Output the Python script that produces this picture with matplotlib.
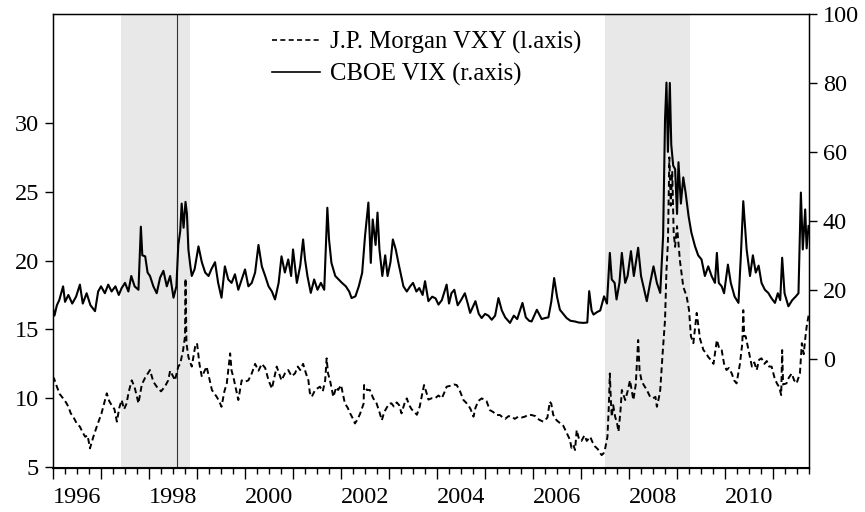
import matplotlib

matplotlib.use('Agg')
import matplotlib.pyplot as plt
from matplotlib.lines import Line2D
import numpy as np

plt.rcParams['font.family'] = ['Liberation Serif', 'DejaVu Serif']

# J.P. Morgan VXY (left axis): decimal year, level
vxy_t = [1996.00, 1996.02, 1996.08, 1996.14, 1996.21, 1996.27, 1996.32, 1996.37, 1996.42, 1996.49,
         1996.56, 1996.62, 1996.67, 1996.72, 1996.77, 1996.84, 1996.91, 1997.01, 1997.07, 1997.12,
         1997.17, 1997.22, 1997.28, 1997.33, 1997.38, 1997.43, 1997.48, 1997.53, 1997.58, 1997.64,
         1997.70, 1997.78, 1997.85, 1997.92, 1998.02, 1998.09, 1998.16, 1998.25, 1998.33, 1998.40,
         1998.44, 1998.50, 1998.54, 1998.61, 1998.65, 1998.71, 1998.75, 1998.76, 1998.78, 1998.82,
         1998.89, 1998.96, 1999.00, 1999.05, 1999.10, 1999.20, 1999.31, 1999.41, 1999.46, 1999.51,
         1999.57, 1999.62, 1999.69, 1999.72, 1999.76, 1999.86, 1999.93, 2000.00, 2000.07, 2000.14,
         2000.21, 2000.28, 2000.35, 2000.42, 2000.49, 2000.56, 2000.66, 2000.76, 2000.83, 2000.90,
         2000.97, 2001.04, 2001.10, 2001.15, 2001.21, 2001.27, 2001.32, 2001.35, 2001.39, 2001.46,
         2001.56, 2001.62, 2001.67, 2001.70, 2001.73, 2001.77, 2001.84, 2001.90, 2001.94, 2002.00,
         2002.08, 2002.14, 2002.19, 2002.25, 2002.29, 2002.35, 2002.40, 2002.47, 2002.48, 2002.54,
         2002.60, 2002.67, 2002.74, 2002.80, 2002.85, 2002.90, 2002.95, 2003.00, 2003.05, 2003.10,
         2003.16, 2003.21, 2003.26, 2003.32, 2003.37, 2003.42, 2003.47, 2003.53, 2003.58, 2003.64,
         2003.69, 2003.73, 2003.78, 2003.82, 2003.89, 2003.96, 2004.03, 2004.10, 2004.15, 2004.20,
         2004.27, 2004.35, 2004.41, 2004.48, 2004.55, 2004.60, 2004.65, 2004.70, 2004.76, 2004.80,
         2004.86, 2004.93, 2004.98, 2005.03, 2005.10, 2005.17, 2005.24, 2005.31, 2005.37, 2005.42,
         2005.49, 2005.56, 2005.62, 2005.69, 2005.76, 2005.83, 2005.90, 2005.97, 2006.05, 2006.10,
         2006.15, 2006.21, 2006.25, 2006.30, 2006.35, 2006.38, 2006.42, 2006.49, 2006.56, 2006.63,
         2006.70, 2006.74, 2006.77, 2006.80, 2006.84, 2006.875, 2006.91, 2006.96, 2007.01, 2007.07,
         2007.12, 2007.19, 2007.24, 2007.29, 2007.35, 2007.40, 2007.43, 2007.47, 2007.50, 2007.55,
         2007.58, 2007.60, 2007.62, 2007.64, 2007.67, 2007.71, 2007.75, 2007.78, 2007.82, 2007.85,
         2007.92, 2007.97, 2008.02, 2008.06, 2008.09, 2008.14, 2008.19, 2008.22, 2008.26, 2008.30,
         2008.37, 2008.44, 2008.50, 2008.55, 2008.58, 2008.62, 2008.65, 2008.70, 2008.75, 2008.78,
         2008.81, 2008.84, 2008.87, 2008.90, 2008.93, 2008.96, 2009.00, 2009.06, 2009.13, 2009.20,
         2009.25, 2009.29, 2009.34, 2009.41, 2009.48, 2009.55, 2009.60, 2009.65, 2009.70, 2009.76,
         2009.83, 2009.88, 2009.93, 2009.98, 2010.03, 2010.08, 2010.14, 2010.19, 2010.24, 2010.31,
         2010.36, 2010.38, 2010.40, 2010.43, 2010.49, 2010.56, 2010.61, 2010.66, 2010.71, 2010.76,
         2010.82, 2010.87, 2010.92, 2010.97, 2011.03, 2011.08, 2011.13, 2011.17, 2011.19, 2011.21,
         2011.28, 2011.33, 2011.39, 2011.44, 2011.49, 2011.56, 2011.60, 2011.64, 2011.67, 2011.70,
         2011.74]
vxy_v = [11.3, 11.45, 10.84, 10.3, 9.99, 9.7, 9.38, 8.9, 8.66, 8.2,
         7.93, 7.5, 7.2, 7.3, 6.36, 7.2, 7.93, 8.9, 9.7, 10.36,
         9.8, 9.5, 9.2, 8.3, 9.3, 9.87, 9.2, 9.6, 10.5, 11.3,
         10.8, 9.63, 11.0, 11.5, 12.05, 11.2, 10.84, 10.5, 10.84, 11.3,
         12.0, 11.6, 11.3, 12.3, 12.5, 13.5, 14.5, 18.7, 14.0, 13.0,
         12.3, 13.74, 14.0, 12.5, 11.56, 12.3, 10.6, 10.1, 9.8, 9.38,
         10.5, 11.08, 13.26, 12.0, 11.5, 9.87, 11.3, 11.2, 11.3, 11.8,
         12.5, 12.0, 12.5, 12.2, 11.3, 10.7, 12.3, 11.3, 11.8, 12.05,
         11.6, 11.8, 12.3, 12.05, 12.5, 11.8, 11.3, 10.4, 10.1, 10.6,
         10.84, 10.5, 11.3, 12.9, 11.8, 11.3, 10.1, 10.8, 10.6, 10.96,
         9.63, 9.3, 8.9, 8.5, 8.17, 8.5, 8.9, 9.6, 10.96, 10.6,
         10.6, 10.0, 9.63, 9.0, 8.4, 9.0, 9.3, 9.6, 9.63, 9.4,
         9.7, 9.5, 8.9, 9.6, 9.99, 9.5, 9.2, 9.0, 8.8, 9.4,
         10.3, 10.96, 10.4, 9.9, 10.0, 10.0, 10.2, 10.0, 10.4, 10.84,
         10.9, 11.0, 10.96, 10.5, 9.87, 9.7, 9.5, 9.2, 8.66, 9.3,
         9.8, 9.99, 9.9, 9.8, 9.14, 9.0, 8.78, 8.78, 8.6, 8.5,
         8.7, 8.66, 8.5, 8.66, 8.6, 8.66, 8.8, 8.78, 8.7, 8.5,
         8.4, 8.3, 8.4, 8.6, 9.75, 9.6, 8.8, 8.4, 8.2, 8.0,
         7.5, 7.2, 6.96, 6.4, 6.6, 6.24, 7.69, 7.0, 6.9, 7.3,
         6.9, 7.2, 6.8, 6.5, 6.3, 6.0, 5.87, 6.0, 6.3, 7.2,
         9.5, 11.8, 10.0, 8.66, 9.5, 8.66, 8.2, 7.57, 9.0, 10.6,
         9.87, 10.5, 11.3, 10.5, 9.87, 11.0, 14.23, 12.0, 11.3, 11.0,
         10.6, 10.1, 10.0, 10.1, 9.38, 10.0, 10.6, 13.26, 15.7, 19.3,
         21.3, 27.5, 24.0, 26.5, 22.0, 21.0, 22.5, 20.0, 18.1, 17.4,
         16.4, 14.5, 14.0, 16.2, 14.3, 13.5, 13.3, 13.0, 12.8, 12.5,
         14.23, 13.6, 13.5, 12.5, 12.05, 12.2, 11.8, 11.3, 11.08, 12.5,
         14.0, 16.4, 14.5, 14.5, 13.5, 12.3, 12.6, 12.05, 12.8, 12.9,
         12.5, 12.7, 12.3, 12.3, 11.5, 11.08, 10.8, 10.23, 13.5, 11.0,
         11.08, 11.5, 11.8, 11.3, 11.08, 11.8, 14.0, 13.2, 14.3, 15.2,
         16.0]

# CBOE VIX (right axis): decimal year, level
vix_t = [1996.00, 1996.03, 1996.08, 1996.13, 1996.21, 1996.25, 1996.32, 1996.40, 1996.48, 1996.56,
         1996.62, 1996.70, 1996.78, 1996.875, 1996.94, 1997.00, 1997.08, 1997.15, 1997.22, 1997.30,
         1997.37, 1997.43, 1997.50, 1997.57, 1997.63, 1997.70, 1997.78, 1997.83, 1997.86, 1997.92,
         1997.97, 1998.02, 1998.09, 1998.16, 1998.23, 1998.30, 1998.37, 1998.44, 1998.51, 1998.57,
         1998.61, 1998.65, 1998.68, 1998.72, 1998.76, 1998.79, 1998.82, 1998.86, 1998.89, 1998.95,
         1999.03, 1999.10, 1999.17, 1999.24, 1999.30, 1999.375, 1999.44, 1999.51, 1999.58, 1999.65,
         1999.72, 1999.79, 1999.86, 1999.93, 2000.00, 2000.07, 2000.14, 2000.21, 2000.28, 2000.35,
         2000.42, 2000.49, 2000.56, 2000.625, 2000.70, 2000.76, 2000.83, 2000.90, 2000.96, 2001.00,
         2001.08, 2001.15, 2001.21, 2001.25, 2001.30, 2001.37, 2001.44, 2001.51, 2001.58, 2001.65,
         2001.715, 2001.75, 2001.80, 2001.88, 2001.95, 2002.02, 2002.10, 2002.17, 2002.22, 2002.30,
         2002.37, 2002.44, 2002.50, 2002.57, 2002.62, 2002.66, 2002.72, 2002.76, 2002.80, 2002.86,
         2002.92, 2002.97, 2003.03, 2003.08, 2003.14, 2003.20, 2003.30, 2003.37, 2003.44, 2003.50,
         2003.57, 2003.63, 2003.70, 2003.75, 2003.82, 2003.90, 2003.97, 2004.03, 2004.10, 2004.20,
         2004.25, 2004.30, 2004.36, 2004.43, 2004.50, 2004.58, 2004.64, 2004.69, 2004.80, 2004.87,
         2004.93, 2005.00, 2005.07, 2005.14, 2005.21, 2005.28, 2005.35, 2005.42, 2005.52, 2005.60,
         2005.67, 2005.78, 2005.85, 2005.92, 2005.97, 2006.08, 2006.18, 2006.25, 2006.32, 2006.38,
         2006.44, 2006.50, 2006.56, 2006.63, 2006.70, 2006.78, 2006.875, 2006.95, 2007.05, 2007.13,
         2007.17, 2007.22, 2007.26, 2007.33, 2007.40, 2007.48, 2007.54, 2007.60, 2007.64, 2007.70,
         2007.74, 2007.80, 2007.85, 2007.92, 2007.97, 2008.04, 2008.10, 2008.19, 2008.25, 2008.30,
         2008.37, 2008.44, 2008.51, 2008.58, 2008.65, 2008.71, 2008.75, 2008.78, 2008.81, 2008.85,
         2008.88, 2008.92, 2008.96, 2009.00, 2009.03, 2009.08, 2009.13, 2009.18, 2009.24, 2009.30,
         2009.375, 2009.44, 2009.51, 2009.58, 2009.65, 2009.72, 2009.79, 2009.83, 2009.87, 2009.93,
         2009.98, 2010.06, 2010.12, 2010.20, 2010.28, 2010.33, 2010.38, 2010.45, 2010.52, 2010.58,
         2010.64, 2010.70, 2010.76, 2010.83, 2010.90, 2010.97, 2011.04, 2011.10, 2011.15, 2011.19,
         2011.24, 2011.32, 2011.40, 2011.47, 2011.53, 2011.58, 2011.62, 2011.67, 2011.70, 2011.74]
vix_v = [14.5, 12.5, 15.5, 17.0, 21.0, 16.5, 18.5, 16.0, 18.0, 21.5,
         16.0, 19.0, 15.5, 13.8, 19.5, 21.0, 19.0, 21.5, 19.5, 21.0,
         18.5, 20.5, 22.0, 19.5, 24.0, 21.0, 20.0, 38.3, 30.0, 29.7,
         25.0, 24.0, 21.0, 19.0, 23.5, 25.5, 21.0, 24.0, 17.7, 21.0,
         33.0, 37.0, 45.0, 38.0, 45.5, 42.0, 31.7, 27.0, 24.0, 26.0,
         32.6, 28.0, 25.0, 24.0, 26.0, 28.0, 22.0, 17.7, 26.8, 23.0,
         22.0, 24.5, 20.0, 23.0, 25.9, 21.0, 22.0, 25.0, 33.0, 26.8,
         24.0, 21.0, 19.5, 17.2, 22.0, 29.7, 25.0, 28.8, 24.0, 31.7,
         22.0, 27.0, 34.6, 28.8, 24.0, 19.1, 23.0, 20.0, 22.0, 20.0,
         43.8, 34.6, 27.8, 24.0, 23.0, 22.0, 21.0, 19.5, 17.6, 18.1,
         21.0, 24.9, 35.6, 45.3, 27.8, 40.4, 33.0, 42.4, 31.7, 24.0,
         30.0, 24.0, 28.0, 34.6, 31.7, 27.5, 21.0, 19.5, 21.0, 22.0,
         19.5, 20.5, 18.5, 22.5, 16.7, 18.0, 17.5, 15.7, 17.0, 21.5,
         16.0, 19.0, 20.0, 15.5, 17.0, 19.0, 16.0, 13.3, 16.7, 13.0,
         11.8, 13.0, 12.5, 11.3, 12.5, 17.6, 14.0, 12.0, 10.4, 12.5,
         11.5, 16.2, 12.0, 11.0, 10.8, 14.2, 11.5, 11.8, 12.0, 16.5,
         23.4, 18.0, 14.2, 13.0, 11.8, 11.0, 10.8, 10.5, 10.4, 10.5,
         19.6, 14.0, 12.8, 13.5, 14.0, 18.1, 16.0, 30.7, 23.0, 22.0,
         17.2, 22.0, 30.7, 22.0, 24.0, 31.2, 24.0, 32.2, 24.0, 21.0,
         16.7, 22.0, 26.8, 22.0, 19.1, 35.6, 69.5, 80.1, 60.0, 80.0,
         62.0, 56.0, 55.0, 42.0, 57.0, 45.0, 52.6, 48.0, 41.4, 36.5,
         32.6, 30.0, 28.8, 24.0, 26.8, 24.0, 22.0, 30.7, 22.0, 21.0,
         19.0, 27.3, 22.0, 18.0, 16.2, 30.0, 45.7, 31.7, 24.0, 30.0,
         25.0, 27.0, 22.0, 20.0, 19.1, 17.5, 16.2, 19.0, 17.0, 29.3,
         19.0, 15.2, 17.0, 18.0, 19.0, 48.2, 31.7, 43.3, 32.0, 38.5]

# Shaded crisis periods and event line
shade_periods = [(1997.42, 1998.85), (2007.5, 2009.26)]
event_year = 1998.59

year_labels = [str(y) for y in range(1996, 2011, 2)]
label_pos = [y + 0.5 for y in range(1996, 2011, 2)]

fig = plt.figure(figsize=(8.65, 5.12), dpi=100)
ax = fig.add_axes([0.0613, 0.0859, 0.874, 0.8868])
ax2 = ax.twinx()

for start, end in shade_periods:
    ax.axvspan(start, end, color='#e8e8e8', lw=0, zorder=0)
ax.axvline(event_year, color='#333333', lw=0.8, zorder=1)

ax.plot(vxy_t, vxy_v, color='black', lw=1.4, linestyle=(0, (3, 1.8)), zorder=2)
ax2.plot(vix_t, vix_v, color='black', lw=1.5, zorder=2)

ax.set_xlim(1996.0, 2011.75)
ax.set_ylim(4.93, 37.92)
ax2.set_ylim(-31.7, 100)

ax.set_yticks([5, 10, 15, 20, 25, 30])
ax2.set_yticks([0, 20, 40, 60, 80, 100])

ax.set_xticks(np.arange(1996, 2012))
ax.set_xticklabels([])
ax.set_xticks(np.arange(1996, 2011.8, 0.25), minor=True)
ax.tick_params(axis='x', which='major', direction='out', length=8, width=1)
ax.tick_params(axis='x', which='minor', direction='out', length=4, width=1)
ax.tick_params(axis='y', direction='out', length=6, width=1, pad=4, labelsize=17.5)
ax2.tick_params(axis='y', direction='out', length=6, width=1, pad=4, labelsize=17.5)

sec = ax.secondary_xaxis('bottom')
sec.set_xticks(label_pos, labels=year_labels)
sec.tick_params(length=0, pad=14, labelsize=17.5)
sec.spines['bottom'].set_visible(False)

for s in ax.spines.values():
    s.set_linewidth(1.0)
ax.spines['bottom'].set_linewidth(1.5)

handles = [Line2D([], [], color='black', lw=1.2, linestyle=(0, (3, 2))),
           Line2D([], [], color='black', lw=1.2)]
ax.legend(handles, ['J.P. Morgan VXY (l.axis)', 'CBOE VIX (r.axis)'],
          loc='upper left', bbox_to_anchor=(0.289, 0.962), frameon=False,
          fontsize=17.8, handlelength=1.95, handletextpad=0.42, labelspacing=0.35,
          borderaxespad=0, borderpad=0)

fig.savefig('out.png', dpi=100)
